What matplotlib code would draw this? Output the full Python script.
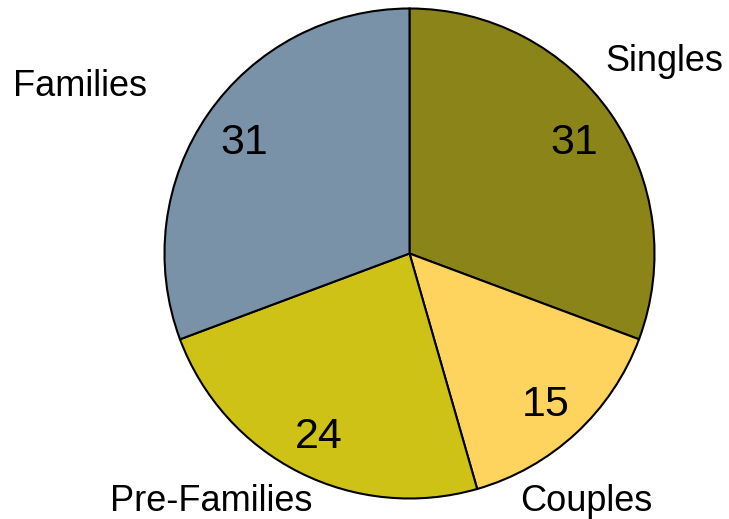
import matplotlib
matplotlib.use("Agg")
import matplotlib.pyplot as plt
import numpy as np

plt.rcParams['font.family'] = ['Liberation Sans', 'DejaVu Sans']

# Household segments, clockwise from 12 o'clock
categories = ["Singles", "Couples", "Pre-Families", "Families"]
values = [31, 15, 24, 31]
colors = ["#8B8519", "#FED35E", "#CFC216", "#7A92A8"]

W, H = 729, 519
CX, CY, R = 409.5, 253.5, 245      # pie centre and radius in pixels

# category label anchors (pixel x-centre, pixel baseline from top)
label_pos = [(664, 71), (586, 511), (211, 511), (80, 96)]

fig = plt.figure(figsize=(W / 100, H / 100), dpi=100)
ax = fig.add_axes([0, 0, 1, 1])

wedges, _ = ax.pie(values, startangle=90, counterclock=False, colors=colors,
                   radius=1.0,
                   wedgeprops=dict(edgecolor="black", linewidth=1.5))

ax.set_xlim(-CX / R, (W - CX) / R)
ax.set_ylim(-(H - CY) / R, CY / R)
ax.set_aspect("equal")
ax.axis("off")

# value labels inside each wedge
for w, v in zip(wedges, values):
    ang = np.deg2rad((w.theta1 + w.theta2) / 2)
    ax.text(0.82 * np.cos(ang), 0.82 * np.sin(ang), str(v),
            ha="center", va="center_baseline", fontsize=31, color="black")

# category names outside the pie
for name, (px, py) in zip(categories, label_pos):
    fig.text(px / W, 1 - py / H, name, ha="center", va="baseline",
             fontsize=26, color="black")

fig.savefig("out.png", dpi=100)
